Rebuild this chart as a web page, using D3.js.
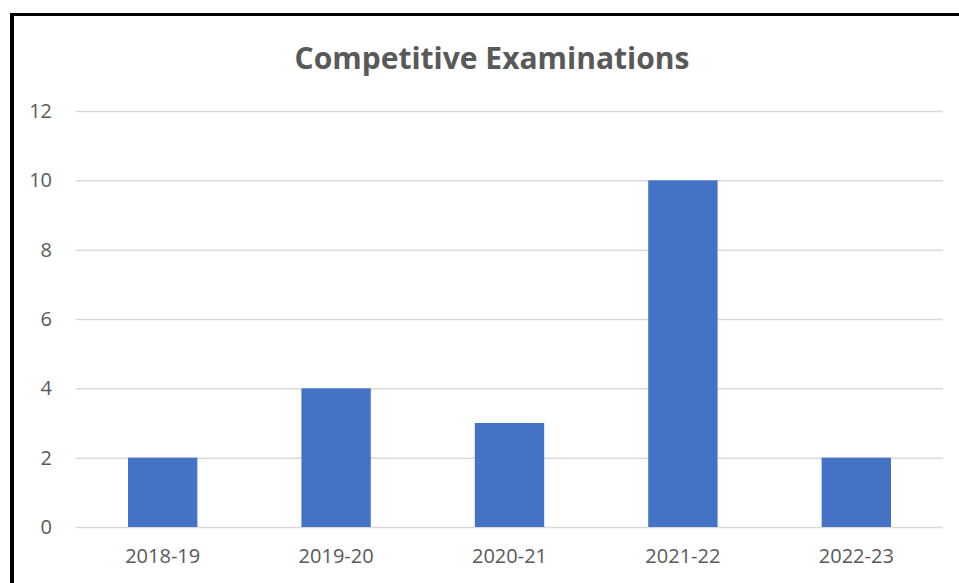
<!DOCTYPE html>
<html><head><meta charset="utf-8">
<script src="https://cdn.jsdelivr.net/npm/d3@7"></script>
<style>body{margin:0;background:#fff;}svg{display:block;}</style>
</head><body>
<script>
const categories = ["2018-19","2019-20","2020-21","2021-22","2022-23"];
const values = [2,4,3,10,2];
const yTicks = [0,2,4,6,8,10,12];
const title = "Competitive Examinations";

const W = 959, H = 583;
const svg = d3.select("body").append("svg").attr("width",W).attr("height",H);
// frame lines
svg.append("rect").attr("x",10).attr("y",13).attr("width",4).attr("height",H-13).attr("fill","#000");
svg.append("rect").attr("x",10).attr("y",13).attr("width",W-10).attr("height",3).attr("fill","#000");

const m = {left:76, right:943, top:111, bottom:527};
const x = d3.scaleBand().domain(categories).range([m.left,m.right]).paddingInner(0.6).paddingOuter(0.3);
const y = d3.scaleLinear().domain([0,12]).range([m.bottom,m.top]);

const font = "'Open Sans', sans-serif";
svg.append("text").attr("x",492).attr("y",69).attr("text-anchor","middle")
  .attr("font-family",font).attr("font-weight","bold").attr("font-size",30).attr("fill","#595959").text(title);

const yAxis = d3.axisLeft(y).tickValues(yTicks).tickSize(-(m.right-m.left)).tickPadding(24);
const gy = svg.append("g").attr("transform",`translate(${m.left},0)`).call(yAxis);
gy.attr("font-family",font).attr("font-size",20);
gy.select(".domain").remove();
gy.selectAll("line").attr("stroke","#d9d9d9").attr("stroke-width",1.5);
gy.selectAll("text").attr("fill","#595959");

svg.append("g").selectAll("rect").data(values).join("rect")
  .attr("x",(d,i)=>x(categories[i])).attr("width",x.bandwidth())
  .attr("y",d=>y(d)).attr("height",d=>y(0)-y(d))
  .attr("fill","#4472C4");

const xAxis = d3.axisBottom(x).tickSize(0).tickPadding(22);
const gx = svg.append("g").attr("transform",`translate(0,${m.bottom})`).call(xAxis);
gx.attr("font-family",font).attr("font-size",20);
gx.select(".domain").remove();
gx.selectAll("text").attr("fill","#595959");
</script>
</body></html>
